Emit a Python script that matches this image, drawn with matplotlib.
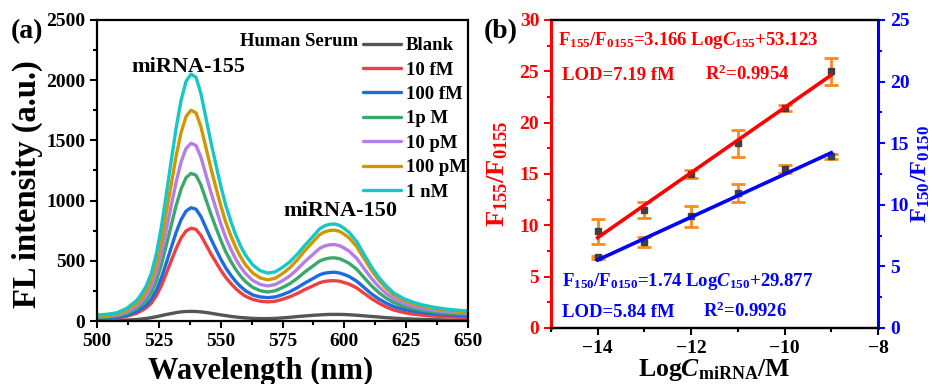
import matplotlib
matplotlib.use("Agg")
import matplotlib.pyplot as plt
from matplotlib.ticker import MultipleLocator
import numpy as np

plt.rcParams['font.family'] = ['Liberation Serif', 'DejaVu Serif']
plt.rcParams['font.weight'] = 'bold'
plt.rcParams['mathtext.fontset'] = 'custom'
plt.rcParams['mathtext.rm'] = 'Liberation Serif:bold'
plt.rcParams['mathtext.it'] = 'Liberation Serif:italic:bold'
plt.rcParams['mathtext.bf'] = 'Liberation Serif:bold'

# ---- panel (a): spectra ----
wavelength = [500, 504, 508, 512, 516, 518, 520, 522, 524, 526, 528, 530, 532, 534,
              536, 538, 540, 542, 544, 546, 548, 550, 552, 554, 556, 558, 560, 563,
              566, 569, 572, 575, 578, 581, 584, 587, 590, 592, 594, 596, 598, 600,
              602, 605, 608, 611, 614, 617, 620, 624, 628, 632, 636, 640, 645, 650]

blank = [3, 4, 5, 8, 13, 17, 22, 28, 36, 45, 54, 62, 70, 76, 79, 80, 79, 76, 71, 65,
         58, 51, 45, 39, 34, 29, 26, 22, 20, 20, 22, 26, 31, 37, 42, 47, 51, 53, 55,
         55, 55, 54, 52, 48, 43, 38, 33, 28, 24, 19, 16, 13, 11, 9, 7, 6]
c_10fM = [15, 18, 23, 39, 64, 85, 111, 150, 211, 293, 395, 500, 603, 690, 748, 771,
          761, 711, 635, 560, 491, 423, 363, 314, 271, 235, 206, 179, 164, 159, 164,
          181, 202, 229, 261, 289, 318, 329, 334, 335, 331, 319, 306, 275, 230, 186,
          148, 116, 91, 71, 56, 48, 41, 37, 33, 30]
c_100fM = [22, 25, 31, 48, 78, 103, 135, 184, 257, 358, 482, 610, 737, 842, 913, 941,
           929, 868, 776, 684, 599, 516, 443, 383, 330, 287, 252, 216, 200, 194, 200,
           219, 244, 277, 315, 349, 384, 397, 403, 405, 399, 386, 369, 331, 278, 225,
           182, 148, 120, 97, 81, 70, 62, 55, 49, 45]
c_1pM = [30, 34, 41, 63, 102, 135, 176, 239, 335, 466, 628, 795, 960, 1097, 1190, 1226,
         1211, 1130, 1011, 891, 780, 673, 577, 499, 431, 374, 328, 279, 252, 241, 251,
         278, 311, 355, 407, 452, 498, 514, 523, 525, 518, 500, 478, 430, 360, 292,
         235, 189, 153, 123, 102, 87, 76, 67, 60, 55]
c_10pM = [35, 39, 48, 75, 122, 162, 212, 288, 403, 562, 756, 958, 1156, 1321, 1433,
          1476, 1458, 1361, 1217, 1073, 940, 810, 695, 601, 518, 450, 395, 336, 304,
          291, 303, 335, 375, 430, 493, 548, 603, 623, 633, 635, 626, 605, 579, 520,
          436, 353, 283, 228, 183, 145, 121, 103, 90, 80, 71, 65]
c_100pM = [40, 45, 56, 90, 145, 192, 252, 342, 478, 666, 897, 1136, 1371, 1567, 1699,
           1751, 1729, 1614, 1443, 1272, 1114, 961, 824, 713, 615, 534, 468, 398, 358,
           342, 355, 394, 443, 508, 584, 651, 717, 740, 752, 755, 745, 720, 689, 618,
           518, 420, 337, 270, 216, 171, 142, 120, 104, 92, 82, 75]
c_1nM = [50, 56, 68, 105, 170, 225, 295, 400, 560, 780, 1050, 1330, 1605, 1835, 1990,
         2050, 2025, 1890, 1690, 1490, 1305, 1125, 965, 835, 720, 625, 548, 465, 418,
         398, 408, 445, 492, 555, 628, 695, 765, 790, 803, 806, 795, 768, 735, 660,
         553, 448, 360, 290, 233, 186, 155, 132, 115, 102, 91, 83]

spec_labels = ['Blank', '10 fM', '100 fM', '1p M', '10 pM', '100 pM', '1 nM']
spec_colors = ['#555555', '#ef4040', '#1e6ae0', '#3aa86a', '#b57de6', '#cf9800', '#17c6c8']
spectra = [blank, c_10fM, c_100fM, c_1pM, c_10pM, c_100pM, c_1nM]

# ---- panel (b): calibration ----
logc = [-14, -13, -12, -11, -10, -9]
f155 = [9.4, 11.5, 15.0, 18.0, 21.4, 25.0]
f155_err = [1.2, 0.8, 0.35, 1.3, 0.3, 1.3]
f150 = [5.72, 6.97, 9.05, 10.94, 12.89, 13.92]
f150_err = [0.12, 0.42, 0.88, 0.75, 0.3, 0.17]
fit155 = (3.166, 53.123)
fit150 = (1.74, 29.877)
fit_x = [-14, -9]

fig = plt.figure(figsize=(9.33, 3.84), dpi=100)
ax1 = fig.add_axes([0.104, 0.164, 0.3976, 0.784])
ax2 = fig.add_axes([0.5906, 0.146, 0.3504, 0.802])

for y, lab, col in zip(spectra, spec_labels, spec_colors):
    ax1.plot(wavelength, y, color=col, lw=2.4, label=lab,
             solid_capstyle='round', solid_joinstyle='round')

ax1.set_xlim(500, 650)
ax1.set_ylim(0, 2500)
ax1.xaxis.set_major_locator(MultipleLocator(25))
ax1.xaxis.set_minor_locator(MultipleLocator(12.5))
ax1.yaxis.set_major_locator(MultipleLocator(500))
ax1.yaxis.set_minor_locator(MultipleLocator(250))
ax1.set_xlabel('Wavelength (nm)', fontsize=22, fontweight='bold')
ax1.set_ylabel('FL intensity (a.u.)', fontsize=23.5, fontweight='bold')
ax1.xaxis.set_label_coords(0.44, -0.118)
ax1.yaxis.set_label_coords(-0.145, 0.455)
ax1.text(513.7, 2071, 'miRNA-155', fontsize=16, fontweight='bold')
ax1.text(575.3, 872, 'miRNA-150', fontsize=16, fontweight='bold')

leg = ax1.legend(loc='upper left', bbox_to_anchor=(0.717, 0.9435), frameon=False,
                 fontsize=13.5, handlelength=2.0, handletextpad=0.3,
                 labelspacing=0.39, borderpad=0, borderaxespad=0)
for t in leg.get_texts():
    t.set_fontweight('bold')
ax1.text(0.7035, 0.93, 'Human Serum', transform=ax1.transAxes, fontsize=13.5,
         fontweight='bold', ha='right', va='center')

for s in ax1.spines.values():
    s.set_linewidth(1.6)
ax1.tick_params(which='major', direction='out', length=5, width=1.5, labelsize=14)
ax1.tick_params(which='minor', direction='out', length=3, width=1.5)

# panel (b)
red = '#ff0000'
blue = '#0000ff'
orange = '#ff8a1c'
ax3 = ax2.twinx()

ax2.errorbar(logc, f155, yerr=f155_err, fmt='s', color='#404040', ms=5,
             ecolor=orange, elinewidth=2, capsize=5, capthick=2, zorder=2)
fx = np.array(fit_x)
ax2.plot(fx, fit155[0] * fx + fit155[1], color=red, lw=2.6, zorder=3)
ax3.errorbar(logc, f150, yerr=f150_err, fmt='s', color='#404040', ms=5,
             ecolor=orange, elinewidth=2, capsize=5, capthick=2, zorder=2)
ax3.plot(fx, fit150[0] * fx + fit150[1], color=blue, lw=2.6, zorder=3)

ax2.set_xlim(-15, -8)
ax2.set_ylim(0, 30)
ax3.set_ylim(0, 25)
ax2.xaxis.set_major_locator(MultipleLocator(2))
ax2.xaxis.set_minor_locator(MultipleLocator(1))
ax2.yaxis.set_major_locator(MultipleLocator(5))
ax2.yaxis.set_minor_locator(MultipleLocator(2.5))
ax3.yaxis.set_major_locator(MultipleLocator(5))
ax3.yaxis.set_minor_locator(MultipleLocator(2.5))

for ax in (ax2, ax3):
    for s in ax.spines.values():
        s.set_linewidth(1.6)
ax2.spines['right'].set_visible(False)
ax3.spines['left'].set_visible(False)
ax2.spines['left'].set_color(red)
ax2.spines['left'].set_linewidth(2.2)
ax3.spines['right'].set_color(blue)
ax3.spines['right'].set_linewidth(2.2)

ax2.tick_params(axis='x', which='major', direction='out', length=5, width=1.5, labelsize=14)
ax2.tick_params(axis='x', which='minor', direction='out', length=3, width=1.5)
ax2.tick_params(axis='y', which='major', direction='out', length=5, width=1.5,
                labelsize=14, colors=red)
ax2.tick_params(axis='y', which='minor', direction='out', length=3, width=1.5, colors=red)
ax3.tick_params(axis='y', which='major', direction='out', length=5, width=1.5,
                labelsize=14, colors=blue)
ax3.tick_params(axis='y', which='minor', direction='out', length=3, width=1.5, colors=blue)

ax2.set_xlabel(r'Log$\mathit{C}_{\mathrm{miRNA}}$/M', fontsize=18.5, fontweight='bold', labelpad=0)
ax2.set_ylabel(r'F$_{155}$/F$_{0155}$', fontsize=19, fontweight='bold', color=red, labelpad=7)
ax3.set_ylabel(r'F$_{150}$/F$_{0150}$', fontsize=17.5, fontweight='bold', color=blue,
               rotation=90, labelpad=0)

ax2.text(-14.85, 27.6, r'F$_{155}$/F$_{0155}$=3.166 Log$\mathit{C}_{155}$+53.123',
         color=red, fontsize=13.5, fontweight='bold')
ax2.text(-14.77, 24.2, 'LOD=7.19 fM', color=red, fontsize=13.5, fontweight='bold')
ax2.text(-11.70, 24.2, r'R$^{2}$=0.9954', color=red, fontsize=13.5, fontweight='bold')
ax2.text(-14.77, 4.1, r'F$_{150}$/F$_{0150}$=1.74 Log$\mathit{C}_{150}$+29.877',
         color=blue, fontsize=13.5, fontweight='bold')
ax2.text(-14.77, 1.05, 'LOD=5.84 fM', color=blue, fontsize=13.5, fontweight='bold')
ax2.text(-11.74, 1.05, r'R$^{2}$=0.9926', color=blue, fontsize=13.5, fontweight='bold')

fig.text(0.012, 0.90, '(a)', fontsize=20, fontweight='bold')
fig.text(0.518, 0.90, '(b)', fontsize=20, fontweight='bold')

fig.savefig('out.png', dpi=100)
